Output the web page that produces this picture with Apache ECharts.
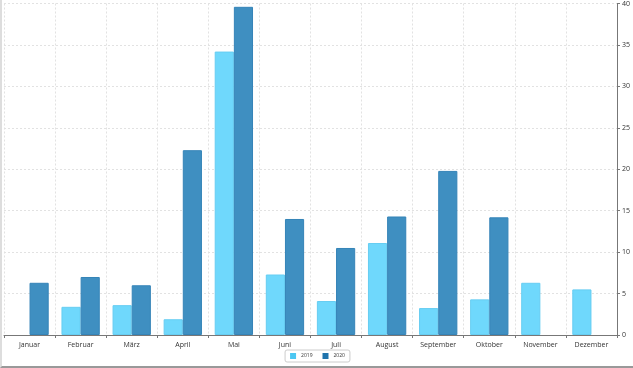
<!DOCTYPE html>
<html><head><meta charset="utf-8">
<script src="https://cdn.jsdelivr.net/npm/echarts@6/dist/echarts.min.js"></script>
<style>html,body{margin:0;padding:0;background:#fff;}#c{width:633px;height:368px;box-sizing:border-box;border-left:2px solid #ddd;border-bottom:2px solid #999;}</style>
</head><body><div id="c"></div>
<script>
const categories = ['Januar','Februar','März','April','Mai','Juni','Juli','August','September','Oktober','November','Dezember'];
const values2019 = [null, 3.4, 3.6, 1.9, 34.2, 7.3, 4.1, 11.1, 3.25, 4.3, 6.3, 5.5];
const values2020 = [6.3, 7.0, 6.0, 22.3, 39.6, 14.0, 10.5, 14.3, 19.8, 14.2, null, null];
const seriesNames = ['2019', '2020'];
const chart = echarts.init(document.getElementById('c'));
chart.setOption({
  animation: false,
  grid: {left: 2, right: 16, top: 3, bottom: 31},
  legend: {
    bottom: 4, left: 'center', itemWidth: 6, itemHeight: 6, itemGap: 10, icon: 'rect',
    borderColor: '#ccc', borderWidth: 1, padding: [3, 5], borderRadius: 2,
    textStyle: {fontSize: 5, color: '#333', fontFamily: 'Open Sans'},
    data: [{name: '2019', itemStyle: {color: '#4cc7f2', borderWidth: 0}}, {name: '2020', itemStyle: {color: '#1f74ad', borderWidth: 0}}]
  },
  xAxis: {
    type: 'category', data: categories,
    axisLine: {lineStyle: {color: '#777'}},
    axisTick: {show: true, lineStyle: {color: '#777'}, length: 3},
    axisLabel: {fontSize: 7, color: '#333', fontFamily: 'Open Sans', margin: 6},
    splitLine: {show: true, lineStyle: {color: '#e2e2e2', type: [2, 2]}}
  },
  yAxis: {
    type: 'value', position: 'right', min: 0, max: 40, interval: 5,
    axisLine: {show: true, lineStyle: {color: '#777'}},
    axisTick: {show: true, lineStyle: {color: '#777'}, length: 3},
    axisLabel: {fontSize: 7, color: '#333', fontFamily: 'Open Sans', margin: 5},
    splitLine: {show: true, lineStyle: {color: '#e2e2e2', type: [2, 2]}}
  },
  series: [
    {name: seriesNames[0], type: 'bar', data: values2019, barGap: '0%', barCategoryGap: '25%',
     itemStyle: {color: '#6fd8fc', borderColor: '#66cdf2', borderWidth: 1}},
    {name: seriesNames[1], type: 'bar', data: values2020,
     itemStyle: {color: '#3f8fc1', borderColor: '#3584b8', borderWidth: 1}}
  ]
});
</script></body></html>
